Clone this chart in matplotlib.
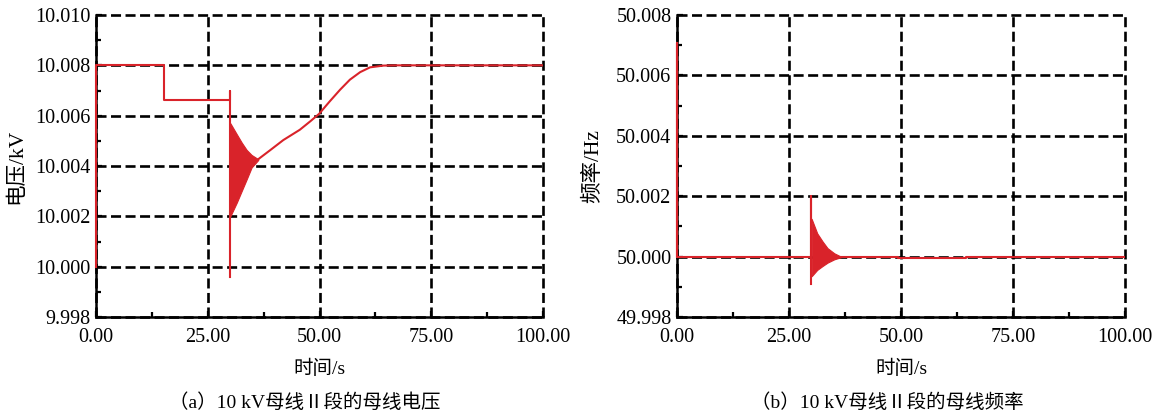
"""Bus section II voltage / frequency traces, 10 kV, two side-by-side panels.

Saves out.png
"""
import matplotlib
matplotlib.use("Agg")
import matplotlib.pyplot as plt
from matplotlib.ticker import FormatStrFormatter, MultipleLocator

plt.rcParams["font.family"] = ["Liberation Serif", "Noto Sans CJK SC", "DejaVu Sans"]

RED = "#d9232a"
GRID_LS = (0, (3.8, 1.7))

# (a) bus voltage, kV
volt_pre_t = [0.0, 0.0, 15.2, 15.2, 30.0, 30.0, 30.0]
volt_pre_v = [10.0000, 10.0080, 10.0080, 10.00662, 10.00662, 10.00699, 9.99960]
volt_band_t = [30.05, 31.5, 32.6, 33.7, 34.8, 36.3]
volt_band_hi = [10.00570, 10.00526, 10.00493, 10.00464, 10.00444, 10.00427]
volt_band_lo = [10.00200, 10.00255, 10.00301, 10.00347, 10.00394, 10.00424]
volt_post_t = [36.3, 38.9, 41.9, 45.6, 47.9, 49.9, 52.3, 54.6, 56.8, 59.1,
               61.3, 64.3, 67.3, 100.0]
volt_post_v = [10.00427, 10.00462, 10.00503, 10.00544, 10.00577, 10.00607,
               10.00657, 10.00703, 10.00743, 10.00773, 10.00792, 10.00799,
               10.00800, 10.00800]

# (b) bus frequency, Hz
freq_pre_t = [0.0, 0.0, 0.0, 30.0, 30.0, 30.0]
freq_pre_v = [50.0000, 50.00707, 50.0000, 50.0000, 50.00202, 49.99910]
freq_band_t = [30.05, 31.3, 32.5, 33.6, 35.1, 36.6]
freq_band_hi = [50.00125, 50.00077, 50.00050, 50.00028, 50.00011, 50.00000]
freq_band_lo = [49.99935, 49.99956, 49.99969, 49.99980, 49.99991, 49.99998]
freq_post_t = [36.6, 49.3, 49.3, 64.6, 64.6, 100.0]
freq_post_v = [50.0000, 50.0000, 49.99996, 49.99996, 50.0000, 50.0000]


def style(ax, ylim, ylabel, ylabel_x):
    ax.set_xlim(0, 100)
    ax.set_ylim(*ylim)
    ax.xaxis.set_major_locator(MultipleLocator(25))
    ax.xaxis.set_minor_locator(MultipleLocator(12.5))
    ax.yaxis.set_major_locator(MultipleLocator(0.002))
    ax.yaxis.set_minor_locator(MultipleLocator(0.001))
    ax.xaxis.set_major_formatter(FormatStrFormatter("%.2f"))
    ax.yaxis.set_major_formatter(FormatStrFormatter("%.3f"))
    ax.tick_params(which="both", direction="in", width=1.6, color="black",
                   labelsize=14.5)
    ax.tick_params(which="major", length=4)
    ax.tick_params(which="minor", length=3.5)
    ax.tick_params(axis="x", pad=8)
    ax.tick_params(axis="y", pad=4)
    for s in ("top", "right"):
        ax.spines[s].set_visible(False)
    for s in ("left", "bottom"):
        ax.spines[s].set_linewidth(1.8)
        ax.spines[s].set_zorder(2.5)
    ax.grid(True, which="major", color="black", linestyle=GRID_LS, lw=1.9)
    ax.set_axisbelow(True)
    for gl in ax.get_xgridlines() + ax.get_ygridlines():
        gl.set_clip_on(False)
    ax.set_xlabel("时间/s", fontsize=14)
    ax.xaxis.set_label_coords(0.5, -0.172)
    ax.xaxis.label.set_va("center")
    ax.set_ylabel(ylabel, fontsize=15.5)
    ax.yaxis.set_label_coords(ylabel_x, 0.5)
    ax.yaxis.label.set_va("center")


def main():
    fig = plt.figure(figsize=(11.59, 4.16), dpi=100)
    ax1 = fig.add_axes([96 / 1159, 99 / 416, 447 / 1159, 302 / 416])
    ax2 = fig.add_axes([677 / 1159, 99 / 416, 448 / 1159, 302 / 416])

    ax1.plot(volt_pre_t, volt_pre_v, color=RED, lw=1.5, zorder=3, clip_on=False)
    ax1.fill_between(volt_band_t, volt_band_lo, volt_band_hi, color=RED, lw=0.8,
                     edgecolor=RED, zorder=3)
    ax1.plot(volt_post_t, volt_post_v, color=RED, lw=1.5, zorder=3)
    style(ax1, (9.998, 10.010), "电压/kV", -0.177)

    ax2.plot(freq_pre_t, freq_pre_v, color=RED, lw=1.5, zorder=3, clip_on=False)
    ax2.fill_between(freq_band_t, freq_band_lo, freq_band_hi, color=RED, lw=0.8,
                     edgecolor=RED, zorder=3)
    ax2.plot(freq_post_t, freq_post_v, color=RED, lw=1.5, zorder=3)
    style(ax2, (49.998, 50.008), "频率/Hz", -0.187)

    fig.text(305 / 1159, 1 - 403 / 416, "（a）10 kV母线Ⅱ段的母线电压",
             ha="center", va="center", fontsize=14)
    fig.text(887 / 1159, 1 - 403 / 416, "（b）10 kV母线Ⅱ段的母线频率",
             ha="center", va="center", fontsize=14)

    fig.savefig("out.png", dpi=100)


if __name__ == "__main__":
    main()
